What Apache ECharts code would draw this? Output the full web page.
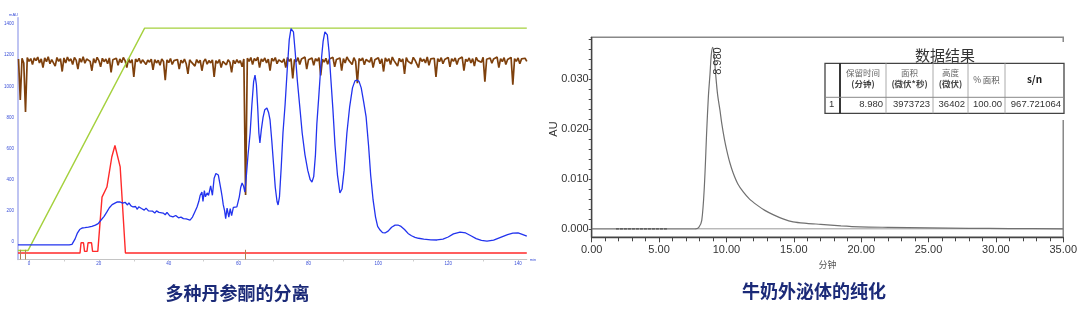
<!DOCTYPE html>
<html><head><meta charset="utf-8">
<script src="https://cdn.jsdelivr.net/npm/echarts@6/dist/echarts.min.js"></script>
<style>html,body{margin:0;padding:0;background:#fff}#c{width:1080px;height:313px}</style>
</head><body><div id="c"></div>
<script>
// ---------- Left chart (多种丹参酮的分离) ----------
const leftXLabels = [0, 20, 40, 60, 80, 100, 120, 140];
const leftXTicks = [0, 10, 20, 30, 40, 50, 60, 70, 80, 90, 100, 110, 120, 130, 140];
const leftYLabels = [0, 200, 400, 600, 800, 1000, 1200, 1400];

const blueTrace = [
[-3.15,-19],[11.5,-19],[12.3,-15],[13.2,20],[13.8,55],[14.5,80],[15.2,90],[16,92],[17,95],[18,100],[19,108],[19.8,118],[20.4,135],[20.9,141],[21.5,165],[22.3,193],[23,220],[23.8,240],[24.6,250],[25.3,258],[26.1,257],[26.8,250],[27.5,255],[28.2,238],[28.6,252],[29.2,232],[29.8,225],[30.5,228],[31,210],[31.4,226],[32.2,215],[33,205],[33.5,218],[34.2,200],[34.6,193],[35.4,198],[36,186],[36.5,200],[37.2,190],[38.4,186],[39,175],[39.5,190],[40.3,168],[41.2,161],[42,170],[42.8,155],[43.5,160],[44.2,150],[45,148],[45.5,138],[46.1,141],[46.8,160],[47.4,190],[48.1,225],[48.6,260],[49,300],[49.5,321],[49.8,260],[50.2,330],[50.5,290],[51,315],[51.4,300],[52,360],[52.5,300],[53,410],[53.5,440],[53.8,443],[54.2,430],[54.6,380],[55,330],[55.3,289],[55.6,240],[56,200],[56.3,150],[56.7,218],[57.2,160],[57.6,215],[58,170],[58.5,222],[59.5,225],[60.2,290],[60.6,350],[61,379],[61.4,360],[61.8,321],[62.2,420],[62.7,560],[63.3,700],[63.8,880],[64.3,1030],[64.7,1072],[65.1,1010],[65.5,850],[65.8,700],[66.1,636],[66.5,720],[67,800],[67.5,850],[68.1,861],[68.6,830],[69,784],[69.5,650],[70,500],[70.5,350],[71,260],[71.3,238],[71.7,290],[72.2,480],[72.7,700],[73.3,880],[73.9,1100],[74.5,1300],[75,1370],[75.3,1374],[75.7,1350],[76.2,1220],[76.8,1040],[77.6,848],[78.2,700],[79,560],[79.8,460],[80.5,400],[81,385],[81.5,420],[82,560],[82.4,760],[83,950],[83.6,1150],[84.2,1290],[84.7,1350],[85,1355],[85.4,1330],[85.9,1220],[86.4,1050],[87,850],[87.6,620],[88.3,430],[89,315],[89.6,340],[90.2,460],[91,700],[91.8,870],[92.6,990],[93.3,1035],[93.9,1040],[94.5,1030],[95.1,990],[95.8,900],[96.5,803],[97.2,620],[97.8,430],[98.5,270],[99.2,160],[99.8,100],[100.5,77],[101.2,60],[101.9,58],[102.8,70],[103.8,95],[104.8,108],[105.6,109],[106.5,100],[107.5,80],[108.5,55],[109.5,40],[110.5,30],[111.5,24],[113,18],[115,14],[116.8,13],[118.5,18],[120,32],[121.5,52],[123.4,64],[125,58],[126.5,40],[128,22],[129.5,10],[131.1,6],[133,12],[135,30],[137,48],[138.5,57],[140,58],[141,50],[142.5,38]
];

const redTrace = [
[-3.15,-71],[14.6,-71],[14.9,-5],[15.6,-5],[15.9,-60],[16.6,-60],[16.9,-5],[17.9,-5],[18.2,-60],[18.9,-60],[19.3,-71],[19.7,-60],[20.9,288],[22.3,353],[23.7,546],[24.6,620],[25.0,629],[26.1,482],[27.6,-71],[142.5,-71]
];

const greenTrace = [[-3.15,-55],[-0.3,-55],[33.1,1374],[142.5,1374]];

const brownStart = -3, brownStep = 0.5;
const brownTrace = [
1175,912,1180,1150,835,1185,1160,1178,1140,1182,
1165,1188,1150,1176,1120,1183,1158,1190,1145,1172,
1180,1130,1185,1160,1178,1095,1182,1150,1188,1162,
1176,1140,1185,1168,1110,1180,1155,1190,1148,1175,
1183,1160,1100,1178,1150,1186,1165,1125,1180,1158,
1175,1145,1182,1090,1170,1160,1180,1135,1176,1152,
1185,1165,1120,1178,1150,1172,1060,1175,1158,1180,
1148,1170,1182,1140,1168,1155,1175,1105,1172,1150,
1168,1135,1176,1160,1040,1170,1152,1178,1140,1165,
1158,1172,1110,1168,1150,1175,1145,1080,1170,1155,
1166,1130,1172,1150,1168,1100,1160,1175,1142,1165,
1150,1170,1060,1165,1148,1172,1120,1160,1168,1138,
1170,1155,1090,1168,1145,1172,1150,1165,1125,1175,
302,1180,1160,1185,1140,1178,1165,1188,1120,1176,
1160,1182,1150,1175,1100,1180,1162,1185,1145,1170,
1182,1155,1176,1120,1185,1160,1178,1050,1172,1158,
1184,1140,1176,1165,1188,1110,1170,1158,1182,1135,
1178,1162,1185,1070,1174,1155,1180,1142,1176,1165,
1186,1125,1172,1160,1182,1100,1178,1150,1188,1168,
1175,1140,1184,1160,1020,1178,1165,1182,1138,1172,
1180,1155,1186,1120,1170,1162,1184,1145,1176,1095,
1182,1160,1178,1140,1188,1165,1175,1130,1180,1158,
1176,1080,1184,1160,1172,1145,1186,1168,1178,1120,
1182,1160,1174,1150,1188,1135,1176,1165,1180,1060,
1178,1158,1184,1145,1172,1166,1186,1125,1178,1160,
1182,1140,1176,1168,1188,1100,1174,1160,1182,1150,
1178,1130,1185,1165,1176,1155,1186,1030,1174,1162,
1182,1148,1176,1165,1188,1120,1178,1158,1184,1140,
1172,1165,1186,1010,1178,1160,1182,1145,1176,1168,
1180,1160
];
const brownMarks = [-2.5, -1.0, 61.8];

// ---------- Right chart (牛奶外泌体的纯化) ----------
const rightYLabels = [0, 0.01, 0.02, 0.03];
const rightYTicks = [0,0.002,0.004,0.006,0.008,0.01,0.012,0.014,0.016,0.018,0.02,0.022,0.024,0.026,0.028,0.03,0.032,0.034,0.036,0.038];
const peakTrace = [
[0,0],[7.7,0],[7.95,0.0003],[8.17,0.0017],[8.36,0.0084],[8.54,0.0198],[8.66,0.0265],[8.78,0.031],[8.88,0.035],[8.98,0.0364],[9.08,0.035],[9.2,0.031],[9.35,0.0268],[9.52,0.0238],[9.65,0.0212],[9.85,0.018],[10.02,0.0158],[10.25,0.0133],[10.5,0.0112],[10.85,0.0090],[11.25,0.0074],[11.7,0.0060],[12.25,0.0048],[12.85,0.0037],[13.5,0.0028],[14.2,0.0020],[14.95,0.0014],[15.96,0.0011],[17,0.0009],[18.5,0.0006],[19.9,0.0004],[22,0.0003],[25,0.0002],[28,0.0001],[31,0.00005],[35,0]
];
const baselineTrace = [[7.7,0],[35,0]];
const noiseSegA = [[1.8,0],[5.6,0]];
const peakLabel = '8.980';
const peakPoint = [8.98, 0.0364];
const tableTitle = '数据结果';
const tableHeader1 = ['', '保留时间', '面积', '高度', '', ''];
const tableHeader2 = ['', '(分钟)', '(微伏*秒)', '(微伏)', '', ''];
const tableHeaderMid = ['', '', '', '', '% 面积', 's/n'];
const tableRow = ['1', '8.980', '3973723', '36402', '100.00', '967.721064'];

const titleLeft = '多种丹参酮的分离';
const titleRight = '牛奶外泌体的纯化';

// ---------- chart ----------
const chart = echarts.init(document.getElementById('c'), null, {renderer: 'canvas'});
const tinyBlue = '#3a4fd8';

const colX = [825, 840, 886, 933, 968, 1005, 1064];
const rowY = [63.3, 97.3, 113.3];
const g = [];
g.push({type:'rect', shape:{x:1059, y:42, width:10, height:78}, style:{fill:'#fff'}, z:50});
g.push({type:'rect', shape:{x:colX[0], y:rowY[0], width:colX[6]-colX[0], height:rowY[2]-rowY[0]}, style:{fill:'#fff', stroke:'#444', lineWidth:1.3}, z:51});
for (let i = 1; i < colX.length - 1; i++) {
  g.push({type:'line', shape:{x1:colX[i], y1:rowY[0], x2:colX[i], y2:rowY[2]}, style:{stroke: i===1 ? '#222' : '#aaa', lineWidth: i===1 ? 1.8 : 1}, z:52});
}
g.push({type:'line', shape:{x1:colX[0], y1:rowY[1], x2:colX[6], y2:rowY[1]}, style:{stroke:'#888', lineWidth:1}, z:52});
g.push({type:'text', x:945, y:55, style:{text:tableTitle, font:'15px "Noto Sans CJK SC"', fill:'#333', align:'center', verticalAlign:'middle'}, z:53});
const dataFont = '9.5px "Liberation Sans"';
for (let i = 0; i < 6; i++) {
  const cx = (colX[i] + colX[i+1]) / 2;
  if (tableHeader1[i]) g.push({type:'text', x:cx, y:72.7, style:{text:tableHeader1[i], font:'8.5px "Noto Sans CJK SC"', fill:'#666', align:'center', verticalAlign:'middle'}, z:53});
  if (tableHeader2[i]) g.push({type:'text', x:cx, y:83.5, style:{text:tableHeader2[i], font:'bold 8.5px "Noto Sans CJK SC"', fill:'#444', align:'center', verticalAlign:'middle'}, z:53});
  if (tableHeaderMid[i]) g.push({type:'text', x:cx, y:79.3, style:{text:tableHeaderMid[i], font: (i===5?'bold 10px':'8.5px') + ' "Noto Sans CJK SC"', fill: i===5?'#222':'#555', align:'center', verticalAlign:'middle'}, z:53});
  if (i === 0) g.push({type:'text', x:colX[0]+4, y:104.5, style:{text:tableRow[0], font:dataFont, fill:'#333', align:'left', verticalAlign:'middle'}, z:53});
  else g.push({type:'text', x:colX[i+1]-3, y:104.5, style:{text:tableRow[i], font:dataFont, fill:'#333', align:'right', verticalAlign:'middle'}, z:53});
}
g.push({type:'text', x:554, y:129, rotation:Math.PI/2, style:{text:'AU', font:'11px "Liberation Sans"', fill:'#333', align:'center', verticalAlign:'middle'}, z:53});
g.push({type:'text', x:237.5, y:293, style:{text:titleLeft, font:'bold 18px "Noto Sans CJK SC"', fill:'#1b2a78', align:'center', verticalAlign:'middle'}, z:53});
g.push({type:'text', x:814, y:291, style:{text:titleRight, font:'bold 18px "Noto Sans CJK SC"', fill:'#1b2a78', align:'center', verticalAlign:'middle'}, z:53});

const option = {
  animation: false,
  backgroundColor: '#fff',
  grid: [
    {left: 18, right: 553.2, top: 17.8, bottom: 53.5, show: false},
    {left: 591.7, right: 16.7, top: 37.3, bottom: 75.7, show: true, borderColor: '#888', borderWidth: 1.5}
  ],
  xAxis: [
    {gridIndex: 0, type: 'value', min: -3.15, max: 142.5, splitLine: {show: false},
     name: 'min', nameLocation: 'end', nameGap: 3, nameTextStyle: {fontSize: 4, color: tinyBlue},
     axisLine: {show: true, onZero: false, lineStyle: {color: '#c4c4c4', width: 1}},
     axisTick: {show: true, customValues: leftXTicks, length: 2, lineStyle: {color: '#ccc'}},
     axisLabel: {customValues: leftXLabels, fontSize: 4.5, color: tinyBlue, margin: 2, fontFamily: 'Liberation Sans', formatter: v => String(v)}},
    {gridIndex: 1, type: 'value', min: 0, max: 35, interval: 5, splitLine: {show: false},
     name: '分钟', nameLocation: 'middle', nameGap: 21, nameTextStyle: {fontSize: 9, color: '#555', fontFamily: 'Noto Sans CJK SC'},
     axisLine: {show: true, onZero: false, lineStyle: {color: '#444', width: 1.3}},
     axisTick: {show: true, length: 5, lineStyle: {color: '#444'}},
     minorTick: {show: true, splitNumber: 5, length: 4, lineStyle: {color: '#444'}},
     axisLabel: {fontSize: 11, color: '#333', margin: 7, fontFamily: 'Liberation Sans', formatter: v => v.toFixed(2),
       showMinLabel: true, showMaxLabel: true}}
  ],
  yAxis: [
    {gridIndex: 0, type: 'value', min: -112.4, max: 1440, splitLine: {show: false},
     name: 'mAU', nameLocation: 'end', nameGap: 1, nameTextStyle: {fontSize: 4, color: tinyBlue, align: 'right'},
     axisLine: {show: true, onZero: false, lineStyle: {color: '#aab0ee', width: 1.5}},
     axisTick: {show: false},
     axisLabel: {customValues: leftYLabels, fontSize: 4.5, color: tinyBlue, margin: 4, fontFamily: 'Liberation Sans', formatter: v => String(v)}},
    {gridIndex: 1, type: 'value', min: -0.0017, max: 0.0384, splitLine: {show: false},
     axisLine: {show: true, onZero: false, lineStyle: {color: '#444', width: 1.3}},
     axisTick: {show: true, customValues: rightYTicks, length: 3, lineStyle: {color: '#444'}},
     axisLabel: {customValues: rightYLabels, fontSize: 11, color: '#333', margin: 3, fontFamily: 'Liberation Sans', formatter: v => v.toFixed(3)}}
  ],
  series: [
    {type: 'line', xAxisIndex: 0, yAxisIndex: 0, symbol: 'none', silent: true,
     data: brownTrace.map((v, i) => [brownStart + i * brownStep, v]),
     lineStyle: {color: '#7e400c', width: 1.7},
     markLine: {silent: true, symbol: 'none', label: {show: false}, lineStyle: {color: '#b08050', width: 1, type: 'solid'},
       data: brownMarks.map(x => [{coord: [x, -50]}, {coord: [x, -112]}])}},
    {type: 'line', xAxisIndex: 0, yAxisIndex: 0, symbol: 'none', silent: true, data: greenTrace,
     lineStyle: {color: '#a5d13e', width: 1.4}},
    {type: 'line', xAxisIndex: 0, yAxisIndex: 0, symbol: 'none', silent: true, data: redTrace,
     lineStyle: {color: '#ff2a2a', width: 1.4}},
    {type: 'line', xAxisIndex: 0, yAxisIndex: 0, symbol: 'none', silent: true, data: blueTrace,
     lineStyle: {color: '#2233ee', width: 1.3}},
    {type: 'line', xAxisIndex: 1, yAxisIndex: 1, symbol: 'none', silent: true, data: baselineTrace,
     lineStyle: {color: '#999', width: 1}},
    {type: 'line', xAxisIndex: 1, yAxisIndex: 1, symbol: 'none', silent: true, data: noiseSegA,
     lineStyle: {color: '#333', width: 1.6, type: [3, 1]}},
    {type: 'line', xAxisIndex: 1, yAxisIndex: 1, symbol: 'none', silent: true, smooth: 0.3, data: peakTrace,
     lineStyle: {color: '#707070', width: 1.2},
     markPoint: {symbol: 'circle', symbolSize: 0, silent: true,
       data: [{coord: peakPoint, value: peakLabel}],
       label: {show: true, formatter: peakLabel, rotate: 90, position: 'inside', align: 'right', verticalAlign: 'middle',
               offset: [0, 5], fontSize: 11, color: '#333', fontFamily: 'Liberation Sans'}}}
  ],
  graphic: g
};
chart.setOption(option);
</script></body></html>
